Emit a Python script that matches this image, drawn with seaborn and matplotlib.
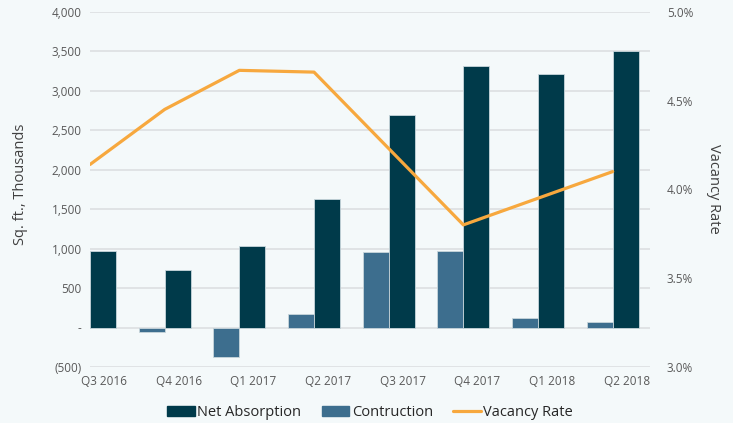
import pandas as pd
import matplotlib.pyplot as plt
import seaborn as sns
from matplotlib.patches import Patch
from matplotlib.lines import Line2D

# data
quarters = ['Q3 2016', 'Q4 2016', 'Q1 2017', 'Q2 2017', 'Q3 2017', 'Q4 2017', 'Q1 2018', 'Q2 2018']
net_absorption = [970, 725, 1030, 1630, 2695, 3310, 3210, 3500]
construction = [400, -60, -370, 175, 955, 965, 125, 70]
vacancy_rate = [4.14, 4.45, 4.67, 4.66, 4.23, 3.80, 3.95, 4.10]

bg = '#F4F9FA'
c_net = '#003A4A'
c_con = '#3D6E8E'
c_vac = '#F7A83E'

sns.set_theme(style='white')
plt.rcParams['font.family'] = ['Open Sans', 'DejaVu Sans']

df = pd.DataFrame({
    'quarter': quarters * 2,
    'value': construction + net_absorption,
    'series': ['Contruction'] * len(quarters) + ['Net Absorption'] * len(quarters),
})

fig = plt.figure(figsize=(7.33, 4.23), dpi=100, facecolor=bg)
ax = fig.add_axes([0.1228, 0.1324, 0.764, 0.8399])
ax.set_facecolor(bg)

sns.barplot(data=df, x='quarter', y='value', hue='series',
            hue_order=['Contruction', 'Net Absorption'],
            palette=[c_con, c_net], saturation=1, width=0.7, ax=ax,
            edgecolor='#c9d6dc', linewidth=0.6, legend=False)

ax.set_ylim(-500, 4000)
ax.set_yticks(range(-500, 4001, 500))
ylabels = []
for v in range(-500, 4001, 500):
    if v < 0:
        ylabels.append('({:,})'.format(-v))
    elif v == 0:
        ylabels.append('-')
    else:
        ylabels.append('{:,}'.format(v))
ax.set_yticklabels(ylabels)
ax.grid(axis='y', color='#dcdfe1', linewidth=1.2)
ax.set_axisbelow(True)
ax.set_xlim(0, 7.5)
ax.set_xticks([i + 0.19 for i in range(len(quarters))])
ax.set_xticklabels(quarters)
ax.tick_params(axis='both', colors='#595959', labelsize=8.5, length=0, pad=6)
ax.set_xlabel('')
ax.set_ylabel('Sq. ft., Thousands', fontsize=10.5, color='#404040')
ax.yaxis.set_label_coords(-0.11, 0.515)
for s in ax.spines.values():
    s.set_visible(False)

ax2 = ax.twinx()
sns.lineplot(x=list(range(len(quarters))), y=vacancy_rate, color=c_vac,
             linewidth=2.3, ax=ax2)
ax2.set_ylim(3.0, 5.0)
ax2.set_yticks([3.0, 3.5, 4.0, 4.5, 5.0])
ax2.set_yticklabels(['3.0%', '3.5%', '4.0%', '4.5%', '5.0%'])
ax2.tick_params(axis='y', colors='#595959', labelsize=8.5, length=0, pad=12)
ax2.set_ylabel('Vacancy Rate', fontsize=10.5, color='#404040', rotation=270, labelpad=20)
ax2.set_xlim(0, 7.5)
for s in ax2.spines.values():
    s.set_visible(False)

handles = [Patch(color=c_net, label='Net Absorption'),
           Patch(color=c_con, label='Contruction'),
           Line2D([0], [0], color=c_vac, linewidth=2.3, label='Vacancy Rate')]
fig.legend(handles=handles, loc='lower center', bbox_to_anchor=(0.505, -0.025),
           ncol=3, frameon=False, fontsize=10.5, handlelength=1.9,
           handletextpad=0.15, columnspacing=1.4)

fig.savefig('out.png', dpi=100, facecolor=bg)
